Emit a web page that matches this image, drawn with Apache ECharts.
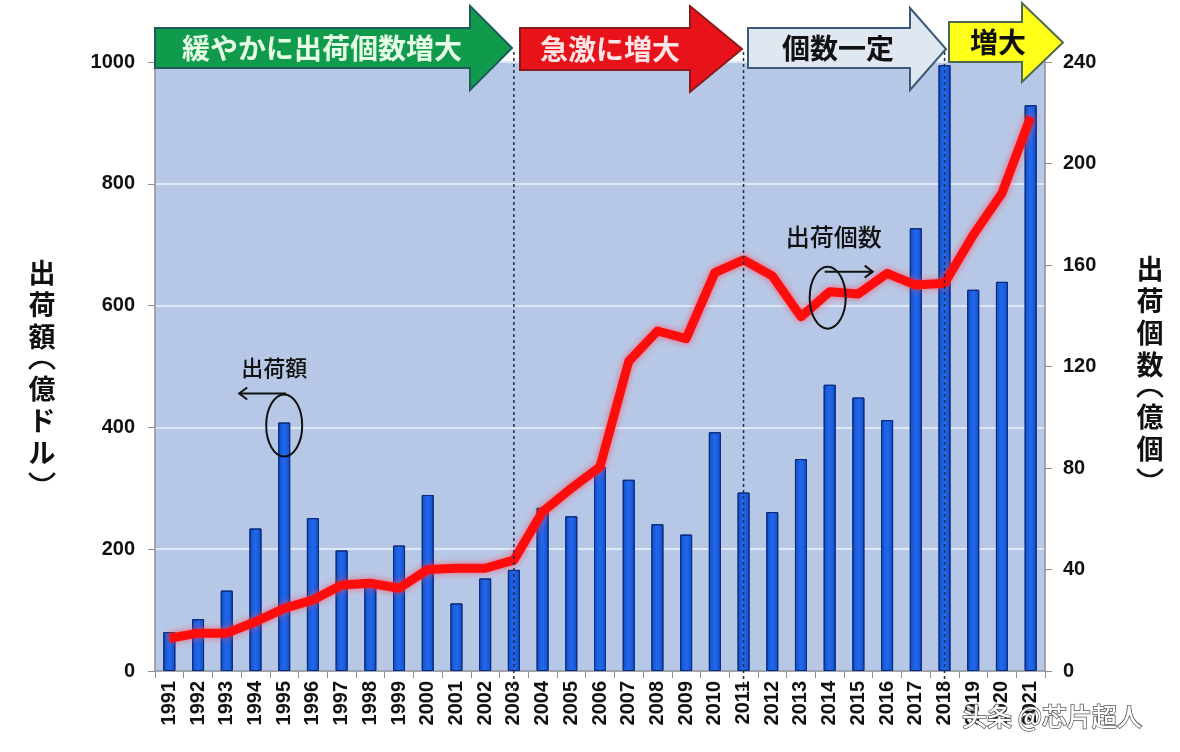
<!DOCTYPE html>
<html>
<head>
<meta charset="utf-8">
<script src="https://cdn.jsdelivr.net/npm/echarts@6/dist/echarts.min.js"></script>
<style>
html,body{margin:0;padding:0;background:#fff;}
#main{width:1180px;height:752px;}
</style>
</head>
<body>
<div id="main"></div>
<script>
const years = ['1991','1992','1993','1994','1995','1996','1997','1998','1999','2000','2001','2002','2003','2004','2005','2006','2007','2008','2009','2010','2011','2012','2013','2014','2015','2016','2017','2018','2019','2020','2021'];
// 出荷額（億ドル）
const shipmentValue = [64,85,132,234,408,251,198,145,206,289,111,152,166,268,254,335,314,241,224,392,293,261,348,470,449,412,727,995,626,639,929];
// 出荷個数（億個）
const shipmentUnits = [12.9,14.9,14.9,19.4,24.7,28,33.9,34.6,32.6,40,40.5,40.5,43.7,62.8,72,80.5,122,134,131,157,162,155.7,139.6,149.5,148.6,156.7,152.1,152.8,171.8,188.3,218.4];
const leftTicks = [0,200,400,600,800,1000];
const rightTicks = [0,40,80,120,160,200,240];
const phaseLabels = ['緩やかに出荷個数増大','急激に増大','個数一定','増大'];
const phaseBreaks = ['2003','2011','2018'];
const leftName = ['出','荷','額','（','億','ド','ル','）'];
const rightName = ['出','荷','個','数','（','億','個','）'];

const JP = '"Noto Sans CJK JP","Noto Sans",sans-serif';
const NUM = '"Liberation Sans",Arial,sans-serif';

const chart = echarts.init(document.getElementById('main'), null, {renderer:'canvas'});

chart.setOption({
  animation:false,
  backgroundColor:'#ffffff',
  grid:{left:155,right:135,top:62,bottom:81,show:true,backgroundColor:'#b7c8e6',borderWidth:0},
  xAxis:{
    type:'category',
    data:years,
    boundaryGap:true,
    axisLine:{lineStyle:{color:'#8a8f98',width:1.5}},
    axisTick:{show:true,length:7,lineStyle:{color:'#8a8f98'}},
    axisLabel:{rotate:90,margin:10,color:'#111',fontSize:20,fontWeight:'bold',fontFamily:NUM}
  },
  yAxis:[
    {
      type:'value',min:leftTicks[0],max:leftTicks[leftTicks.length-1],interval:200,
      axisLine:{show:true,lineStyle:{color:'#8a8f98',width:1.5}},
      axisTick:{show:true,length:7,lineStyle:{color:'#8a8f98'}},
      axisLabel:{margin:20,color:'#111',fontSize:20,fontWeight:'bold',fontFamily:NUM,formatter:v=>String(v)},
      splitLine:{show:true,lineStyle:{color:'#dfe8f6',width:2}}
    },
    {
      type:'value',min:rightTicks[0],max:rightTicks[rightTicks.length-1],interval:40,
      position:'right',
      axisLine:{show:true,lineStyle:{color:'#8a8f98',width:1.5}},
      axisTick:{show:true,length:7,lineStyle:{color:'#8a8f98'}},
      axisLabel:{margin:18,color:'#111',fontSize:20,fontWeight:'bold',fontFamily:NUM,formatter:v=>String(v)},
      splitLine:{show:false}
    }
  ],
  series:[
    {
      type:'bar',
      name:'出荷額',
      data:shipmentValue,
      yAxisIndex:0,
      barWidth:12,
      itemStyle:{
        color:new echarts.graphic.LinearGradient(0,0,1,0,[
          {offset:0,color:'#0f4fcc'},{offset:0.5,color:'#2468ea'},{offset:1,color:'#0f4fcc'}
        ]),
        borderColor:'#0a2a7c',borderWidth:1
      },
      z:2
    },
    {
      type:'line',
      name:'出荷個数',
      data:shipmentUnits,
      yAxisIndex:1,
      symbol:'none',
      lineStyle:{color:'#ff0d0d',width:9,shadowColor:'rgba(255,70,90,0.75)',shadowBlur:7,join:'round'},
      z:5
    }
  ]
});

function arrow(x0, xh, xt, bt, bb, ht, hb, fill, stroke){
  const my = (ht+hb)/2;
  return {
    type:'polygon', z:120,
    shape:{points:[[x0,bt],[xh,bt],[xh,ht],[xt,my],[xh,hb],[xh,bb],[x0,bb]]},
    style:{fill:fill,stroke:stroke,lineWidth:2}
  };
}
function label(text, x, y, size, color, weight){
  return {type:'text', z:125, x:x, y:y,
    style:{text:text, fill:color, font:(weight||'bold')+' '+size+'px '+JP, textAlign:'center', textVerticalAlign:'middle'}};
}
// vertical axis name; parentheses drawn as vertical-form arcs (︵ ︶)
function vertName(chars, x, yTop){
  const out = [];
  let y = yTop;
  chars.forEach((c,i)=>{
    const open = c==='（', close = c==='）';
    const prevParen = i>0 && (chars[i-1]==='（'||chars[i-1]==='）');
    if(i>0){ y += (open||close||prevParen) ? 26 : 32; }
    if(open){
      out.push({type:'arc', z:125, shape:{cx:x, cy:y+14, r:15, startAngle:Math.PI*1.18, endAngle:Math.PI*1.82, clockwise:true},
        style:{stroke:'#111', lineWidth:2.6, fill:'none'}});
    } else if(close){
      out.push({type:'arc', z:125, shape:{cx:x, cy:y-14, r:15, startAngle:Math.PI*0.18, endAngle:Math.PI*0.82, clockwise:true},
        style:{stroke:'#111', lineWidth:2.6, fill:'none'}});
    } else {
      out.push({type:'text', z:125, x:x, y:y,
        style:{text:c, fill:'#111', font:'bold 27px '+JP, textAlign:'center', textVerticalAlign:'middle'}});
    }
  });
  return out;
}

const g = [];
// phase dashed lines
phaseBreaks.forEach(y=>{
  const px = chart.convertToPixel({xAxisIndex:0}, y);
  g.push({type:'line', z:100, shape:{x1:px,y1:52,x2:px,y2:694},
    style:{stroke:'#1d2b4d',lineWidth:1.5,lineDash:[3,3]}});
});
// phase arrows
g.push(arrow(155,470,512,28,68,6,90,'#109a4c','#1e5c5c'));
g.push(label(phaseLabels[0],322,48,28,'#e6ffe6'));
g.push(arrow(520,690,742,28,70,6,92,'#e8121a','#8a1a1a'));
g.push(label(phaseLabels[1],610,49,28,'#ffe6e6'));
g.push(arrow(748,910,946,28,68,8,90,'#dfe7f1','#3d5a7a'));
g.push(label(phaseLabels[2],838,48,28,'#111'));
g.push(arrow(949,1022,1063,22,62,3,82,'#ffff1a','#4c6a50'));
g.push(label(phaseLabels[3],998,42,28,'#111'));

// axis names
g.push(...vertName(leftName,42,273));
g.push(...vertName(rightName,1150,269));

// annotation: 出荷額 (1995 bar)
const pBar = chart.convertToPixel({xAxisIndex:0,yAxisIndex:0}, ['1995', shipmentValue[4]]);
g.push({type:'ellipse', z:110, shape:{cx:pBar[0],cy:pBar[1]+3,rx:18,ry:31}, style:{fill:'none',stroke:'#111',lineWidth:2}});
g.push({type:'polyline', z:110, shape:{points:[[pBar[0]+2,pBar[1]-29],[pBar[0]-45,pBar[1]-29]]}, style:{stroke:'#111',lineWidth:2,fill:'none'}});
g.push({type:'polyline', z:110, shape:{points:[[pBar[0]-37,pBar[1]-35],[pBar[0]-45,pBar[1]-29],[pBar[0]-37,pBar[1]-23]]}, style:{stroke:'#111',lineWidth:2,fill:'none'}});
g.push(label('出荷額',pBar[0]-10,pBar[1]-55,22,'#111','500'));

// annotation: 出荷個数 (2014 line point)
const pLine = chart.convertToPixel({xAxisIndex:0,yAxisIndex:1}, ['2014', shipmentUnits[23]]);
const ex = pLine[0]-2, ey = pLine[1]+6;
g.push({type:'ellipse', z:110, shape:{cx:ex,cy:ey,rx:18,ry:31}, style:{fill:'none',stroke:'#111',lineWidth:2}});
g.push({type:'polyline', z:110, shape:{points:[[ex-3,ey-26],[ex+45,ey-26]]}, style:{stroke:'#111',lineWidth:2,fill:'none'}});
g.push({type:'polyline', z:110, shape:{points:[[ex+37,ey-32],[ex+45,ey-26],[ex+37,ey-20]]}, style:{stroke:'#111',lineWidth:2,fill:'none'}});
g.push(label('出荷個数',ex+6,ey-61,24,'#111','500'));

// watermark
g.push({type:'text', z:130, x:1052, y:716,
  style:{text:'头条 @芯片超人', fill:'#ffffff', stroke:'#555', lineWidth:1.5,
    font:'500 25px '+JP, textAlign:'center', textVerticalAlign:'middle'}});

chart.setOption({graphic:g});
</script>
</body>
</html>
